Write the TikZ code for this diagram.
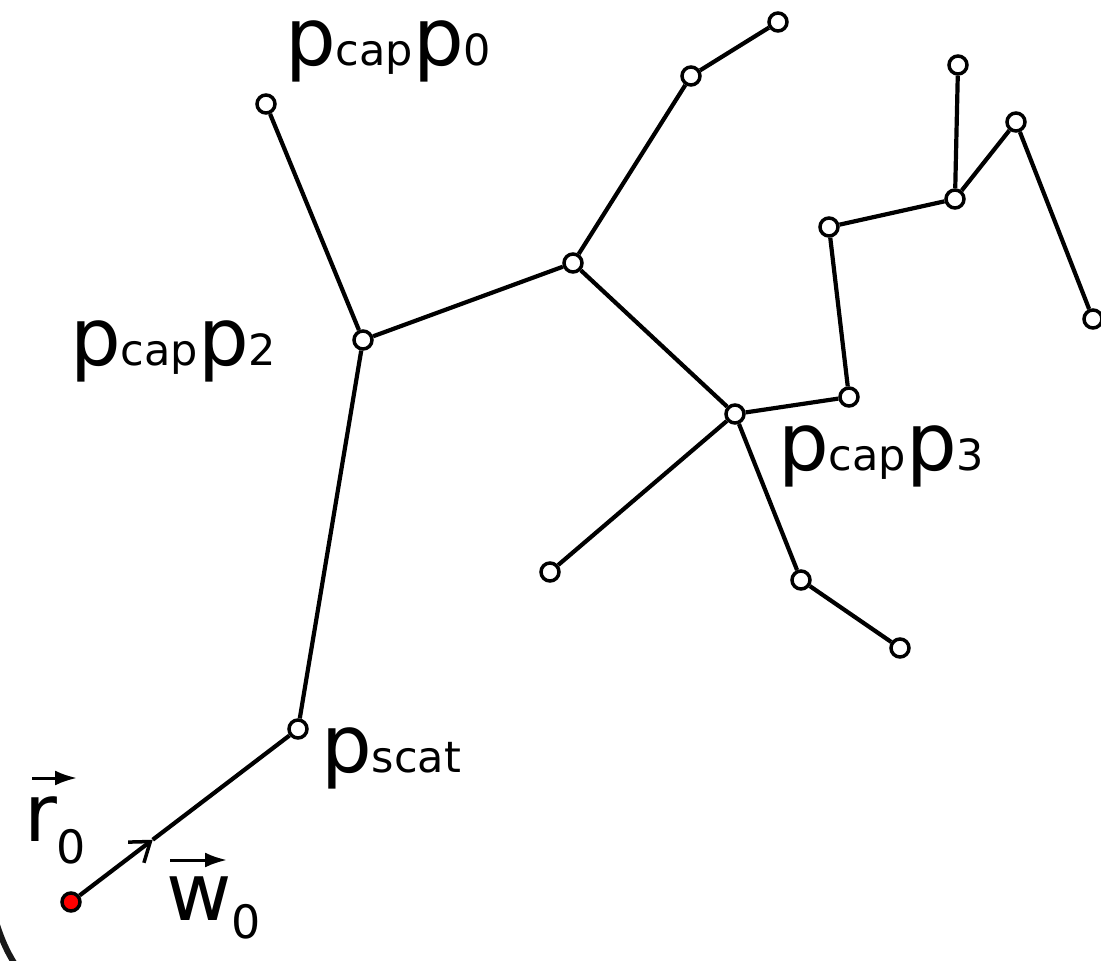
\documentclass[tikz,border=0pt]{standalone}
\usepackage{fontspec}
\setmainfont{DejaVu Sans}
\usetikzlibrary{arrows.meta,calc}
\newcommand\bigf{\fontsize{80}{84}\selectfont}
\newcommand\smf{\fontsize{43}{47}\selectfont}
\newcommand\subf{\fontsize{46}{50}\selectfont}
\tikzset{
  pt/.style={circle,draw=black,fill=white,line width=3.5pt,minimum size=18pt,inner sep=0pt},
  startpt/.style={pt,fill=red},
  edge/.style={line width=4.2pt},
  lbl/.style={anchor=base west,inner sep=0pt,outer sep=0pt},
  vecarrow/.style={line width=3pt,-{Latex[length=22pt,width=15pt]}}
}
\begin{document}
\begin{tikzpicture}[x=1pt,y=-1pt]
\useasboundingbox (0,0) rectangle (1101,961);
% nodes
\node[startpt] (s) at (71,902) {};
\node[pt] (sc) at (298,729) {};
\node[pt] (n2) at (363,340) {};
\node[pt] (n0) at (266,104) {};
\node[pt] (a) at (573,263) {};
\node[pt] (a1) at (691,76) {};
\node[pt] (a2) at (778,22) {};
\node[pt] (b) at (735,414) {};
\node[pt] (c1) at (849,397) {};
\node[pt] (c2) at (829,227) {};
\node[pt] (c3) at (955,199) {};
\node[pt] (c4) at (958,65) {};
\node[pt] (c5) at (1016,122) {};
\node[pt] (c6) at (1093,319) {};
\node[pt] (d1) at (550,572) {};
\node[pt] (e1) at (801,580) {};
\node[pt] (e2) at (900,648) {};
% edges
\coordinate (m) at ($(s)!0.36!(sc)$);
\draw[edge,-{Straight Barb[length=18pt,width=26pt,line width=3.5pt]}] (s) -- (m);
\draw[edge] (m) -- (sc);
\draw[edge] (sc) -- (n2);
\draw[edge] (n2) -- (n0);
\draw[edge] (n2) -- (a);
\draw[edge] (a) -- (a1);
\draw[edge] (a1) -- (a2);
\draw[edge] (a) -- (b);
\draw[edge] (b) -- (c1);
\draw[edge] (c1) -- (c2);
\draw[edge] (c2) -- (c3);
\draw[edge] (c3) -- (c4);
\draw[edge] (c3) -- (c5);
\draw[edge] (c5) -- (c6);
\draw[edge] (b) -- (d1);
\draw[edge] (b) -- (e1);
\draw[edge] (e1) -- (e2);
% labels
\node[lbl] (l0) at (285,65) {\bigf p\smf cap\bigf p\smf 0};
\node[lbl] (l2) at (70,365) {\bigf p\smf cap\bigf p\smf 2};
\node[lbl] (l3) at (778,470) {\bigf p\smf cap\bigf p\smf 3};
\node[lbl] (ls) at (321,772) {\bigf p\smf scat};
\node[lbl] (r0) at (24,841) {\bigf r\raisebox{-22pt}{\subf 0}};
\node[lbl] (w0) at (166,920) {\bigf w\raisebox{-18pt}{\subf 0}};
\draw[vecarrow] (32,778) -- (77,778);
\draw[vecarrow] (170,860) -- (227,860);
% boundary arc
\draw[line width=6pt,black!90] (-4,922) .. controls (2,940) and (6,950) .. (16,966);
\end{tikzpicture}
\end{document}
